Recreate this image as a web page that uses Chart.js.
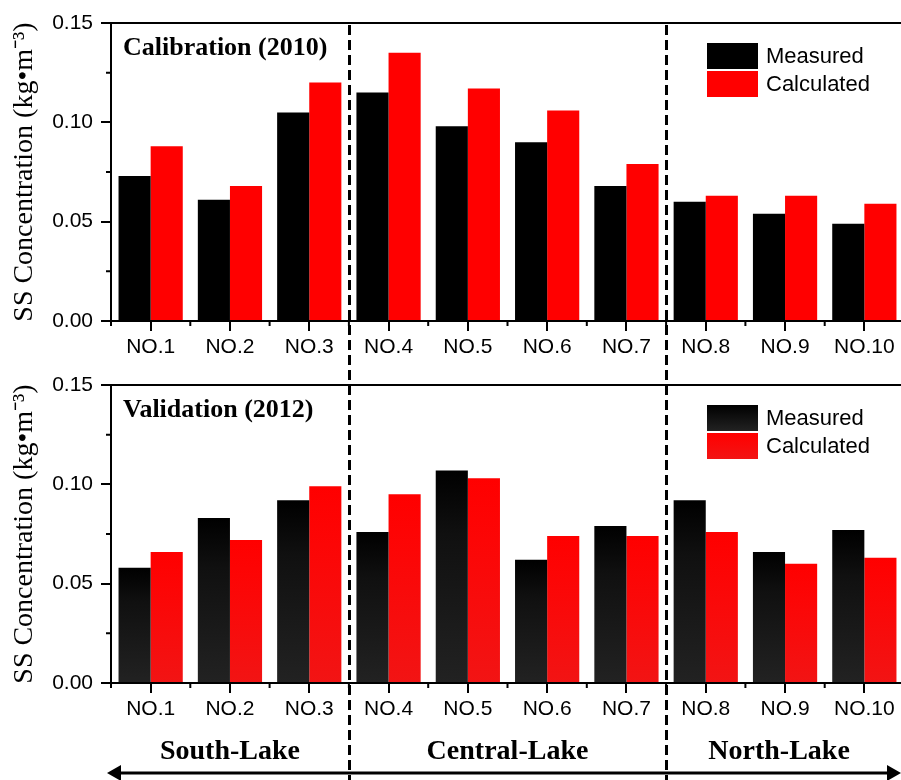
<!DOCTYPE html>
<html>
<head>
<meta charset="utf-8">
<script src="https://cdn.jsdelivr.net/npm/chart.js@4.4.1/dist/chart.umd.min.js"></script>
<style>
  html, body { margin: 0; padding: 0; background: #fff; overflow: hidden; }
  #wrap { position: relative; width: 901px; height: 780px; overflow: hidden; }
  canvas { position: absolute; left: 0; }
  #top { top: 0; }
  #bottom { top: 362px; }
  #overlay { top: 0; pointer-events: none; }
</style>
</head>
<body>
<div id="wrap">
  <canvas id="top" width="904" height="370" style="width:904px;height:370px"></canvas>
  <canvas id="bottom" width="904" height="370" style="width:904px;height:370px"></canvas>
  <canvas id="overlay" width="904" height="780" style="width:904px;height:780px"></canvas>
</div>
<script>
// sampling sites
const sites = ["NO.1", "NO.2", "NO.3", "NO.4", "NO.5", "NO.6", "NO.7", "NO.8", "NO.9", "NO.10"];

// SS concentration, kg/m3
const measured2010   = [0.073, 0.061, 0.105, 0.115, 0.098, 0.090, 0.068, 0.060, 0.054, 0.049];
const calculated2010 = [0.088, 0.068, 0.120, 0.135, 0.117, 0.106, 0.079, 0.063, 0.063, 0.059];
const measured2012   = [0.058, 0.083, 0.092, 0.076, 0.107, 0.062, 0.079, 0.092, 0.066, 0.077];
const calculated2012 = [0.066, 0.072, 0.099, 0.095, 0.103, 0.074, 0.074, 0.076, 0.060, 0.063];

const seriesNames = ["Measured", "Calculated"];
const yMax = 0.15;
const yStep = 0.05;
const yMinorTicks = [0.025, 0.075, 0.125];

// lake regions: name, first site index, last site index
const regionNames = ["South-Lake", "Central-Lake", "North-Lake"];
const regionStart = [0, 3, 7];
const regionEnd = [2, 6, 9];

const SANS = '"Liberation Sans", Arial, sans-serif';
const SERIF = '"Liberation Serif", "Times New Roman", serif';

Chart.defaults.font.family = SANS;
Chart.defaults.font.size = 21;
Chart.defaults.color = "#000";

// fill colours; bottom panel uses a slight vertical shade on every bar
function barFill(base, shaded) {
  return ctx => {
    const chart = ctx.chart;
    if (!shaded || !chart.chartArea || ctx.raw == null) return base[0];
    const y = chart.scales.y;
    const top = y.getPixelForValue(ctx.raw);
    const bot = y.getPixelForValue(0);
    const g = chart.ctx.createLinearGradient(0, top, 0, bot);
    g.addColorStop(0, base[0]);
    g.addColorStop(0.3, base[1]);
    g.addColorStop(1, base[2]);
    return g;
  };
}

const blackShade = ["#000000", "#101010", "#222222"];
const redShade = ["#ff0000", "#fc0606", "#f21414"];

// box, minor ticks, panel title and legend
const framePlugin = {
  id: "frame",
  afterDraw(chart, args, opts) {
    const { ctx, chartArea: a, scales: { x, y } } = chart;
    ctx.save();
    ctx.strokeStyle = "#000";
    ctx.lineWidth = 2;
    ctx.beginPath();
    ctx.moveTo(a.left - 1, a.top);
    ctx.lineTo(a.right, a.top);
    ctx.stroke();

    ctx.beginPath();
    yMinorTicks.forEach(v => {
      const py = y.getPixelForValue(v);
      ctx.moveTo(a.left - 5, py);
      ctx.lineTo(a.left, py);
    });
    for (let i = 0; i <= sites.length; i++) {
      const px = x.getPixelForValue(i - 0.5);
      ctx.moveTo(px, a.bottom);
      ctx.lineTo(px, a.bottom + 5);
    }
    ctx.stroke();

    ctx.fillStyle = "#000";
    ctx.font = "bold 26px " + SERIF;
    ctx.textBaseline = "alphabetic";
    ctx.textAlign = "left";
    ctx.fillText(opts.title, a.left + 12, a.top + 32);

    // legend
    const bx = a.right - 197, by = a.top + 20;
    ctx.font = "22px " + SANS;
    chart.data.datasets.forEach((ds, i) => {
      const top = by + i * 28;
      let fill = opts.shaded ? (i === 0 ? blackShade : redShade) : null;
      if (fill) {
        const g = ctx.createLinearGradient(0, top, 0, top + 26);
        g.addColorStop(0, fill[0]);
        g.addColorStop(1, fill[2]);
        ctx.fillStyle = g;
      } else {
        ctx.fillStyle = i === 0 ? "#000" : "#ff0000";
      }
      ctx.fillRect(bx, top, 51, 26);
      ctx.fillStyle = "#000";
      ctx.textBaseline = "middle";
      ctx.fillText(ds.label, bx + 59, top + 14);
    });
    ctx.restore();
  }
};

function makeChart(id, title, meas, calc, shaded) {
  return new Chart(document.getElementById(id), {
    type: "bar",
    data: {
      labels: sites,
      datasets: [
        { label: seriesNames[0], data: meas, backgroundColor: barFill(blackShade, shaded), borderWidth: 0 },
        { label: seriesNames[1], data: calc, backgroundColor: barFill(redShade, shaded), borderWidth: 0 }
      ]
    },
    options: {
      responsive: false,
      animation: false,
      events: [],
      layout: { padding: { top: 23, right: 0, left: 0, bottom: 0 } },
      datasets: { bar: { categoryPercentage: 0.81, barPercentage: 1.0 } },
      plugins: {
        legend: { display: false },
        tooltip: { enabled: false },
        frame: { title: title, shaded: shaded }
      },
      scales: {
        x: {
          offset: true,
          grid: { offset: false, drawOnChartArea: false, drawTicks: true, tickLength: 10, color: "#000", lineWidth: 2 },
          border: { display: true, color: "#000", width: 2 },
          ticks: { autoSkip: false, maxRotation: 0, padding: 4, font: { size: 21 } },
          afterFit: s => { s.height = 49; }
        },
        y: {
          min: 0,
          max: yMax,
          grid: { drawOnChartArea: false, drawTicks: true, tickLength: 10, color: "#000", lineWidth: 2 },
          border: { display: true, color: "#000", width: 2 },
          ticks: { stepSize: yStep, padding: 8, font: { size: 21 }, callback: v => v.toFixed(2) },
          title: {
            display: true,
            text: "SS Concentration (kg\u2022m\u207B\u00B3)",
            font: { family: SERIF, size: 28 },
            padding: { top: 8, bottom: 0 }
          },
          afterFit: s => { s.width = 111; }
        }
      }
    },
    plugins: [framePlugin]
  });
}

const chartTop = makeChart("top", "Calibration (2010)", measured2010, calculated2010, false);
const chartBottom = makeChart("bottom", "Validation (2012)", measured2012, calculated2012, true);

// dashed region dividers, region names and the double arrow
function drawOverlay() {
  const cv = document.getElementById("overlay");
  const ctx = cv.getContext("2d");
  const x = chartTop.scales.x;
  const a = chartTop.chartArea;

  ctx.strokeStyle = "#000";
  ctx.lineWidth = 3;
  ctx.setLineDash([10, 5]);
  for (let r = 1; r < regionNames.length; r++) {
    const px = Math.round(x.getPixelForValue(regionStart[r] - 0.5)) + 0.5;
    ctx.beginPath();
    ctx.moveTo(px, a.top + 2);
    ctx.lineTo(px, 780);
    ctx.stroke();
  }
  ctx.setLineDash([]);

  ctx.fillStyle = "#000";
  ctx.font = "bold 28px " + SERIF;
  ctx.textAlign = "center";
  ctx.textBaseline = "alphabetic";
  regionNames.forEach((name, r) => {
    const l = x.getPixelForValue(regionStart[r] - 0.5);
    const rr = x.getPixelForValue(regionEnd[r] + 0.5);
    ctx.fillText(name, (l + rr) / 2 - (r === 2 ? 6 : 0), 759);
  });

  // arrow
  const ay = 773, x0 = 107, x1 = 901;
  ctx.lineWidth = 3;
  ctx.beginPath();
  ctx.moveTo(x0 + 8, ay);
  ctx.lineTo(x1 - 8, ay);
  ctx.stroke();
  ctx.beginPath();
  ctx.moveTo(x0, ay);
  ctx.lineTo(x0 + 14, ay - 8);
  ctx.lineTo(x0 + 14, ay + 8);
  ctx.closePath();
  ctx.fill();
  ctx.beginPath();
  ctx.moveTo(x1, ay);
  ctx.lineTo(x1 - 14, ay - 8);
  ctx.lineTo(x1 - 14, ay + 8);
  ctx.closePath();
  ctx.fill();
}
drawOverlay();
</script>
</body>
</html>
